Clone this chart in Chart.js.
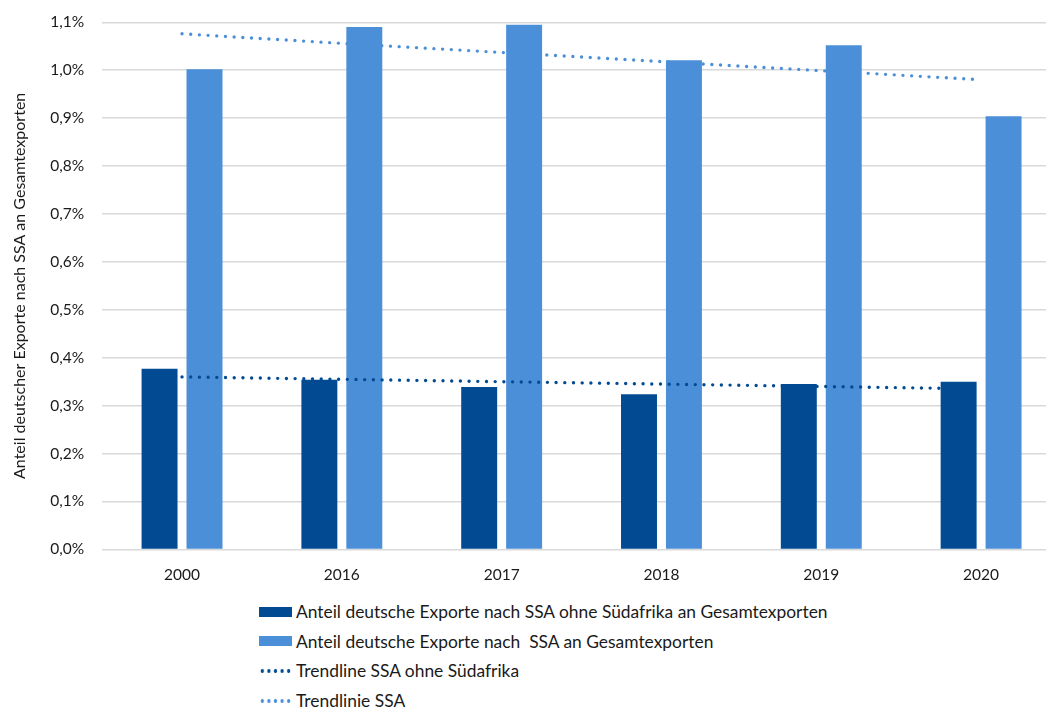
<!DOCTYPE html>
<html>
<head>
<meta charset="utf-8">
<script src="https://cdn.jsdelivr.net/npm/chart.js@4/dist/chart.umd.min.js"></script>
<style>
  body { margin: 0; background: #fff; overflow: hidden; font-family: Lato, "Open Sans", sans-serif; }
  #wrap { position: absolute; left: 0; top: -5px; width: 1061px; height: 597px; }
  #legend { position: absolute; left: 259px; top: 597px; font-size: 17.4px; color: #1a1a1a; }
  .item { display: flex; align-items: center; height: 29.6px; white-space: pre; }
  .swatch { width: 33px; height: 10px; margin-right: 4px; }
  .dots { width: 33px; height: 4px; margin-right: 4px; }
</style>
</head>
<body>
<div id="wrap"><canvas id="exportChart"></canvas></div>
<div id="legend"></div>
<script>
const years = ['2000', '2016', '2017', '2018', '2019', '2020'];
const ssaOhneSuedafrika = [0.377, 0.354, 0.339, 0.324, 0.345, 0.350];
const ssaGesamt = [1.002, 1.090, 1.095, 1.021, 1.052, 0.904];
const trendOhneSuedafrika = [0.360, 0.355, 0.350, 0.345, 0.340, 0.335];
const trendSsa = [1.076, 1.056, 1.037, 1.018, 0.999, 0.980];

const darkBlue = '#024b92';
const lightBlue = '#4c8fd9';

const ctx = document.getElementById('exportChart').getContext('2d');

const chart = new Chart(ctx, {
  type: 'bar',
  data: {
    labels: years,
    datasets: [
      {
        label: 'Anteil deutsche Exporte nach SSA ohne Südafrika an Gesamtexporten',
        data: ssaOhneSuedafrika,
        backgroundColor: darkBlue,
        order: 2
      },
      {
        label: 'Anteil deutsche Exporte nach  SSA an Gesamtexporten',
        data: ssaGesamt,
        backgroundColor: lightBlue,
        order: 2
      },
      {
        type: 'line',
        label: 'Trendline SSA ohne Südafrika',
        data: trendOhneSuedafrika,
        borderColor: darkBlue,
        borderWidth: 3.4,
        borderDash: [0, 8.7],
        borderCapStyle: 'round',
        pointRadius: 0,
        order: 1
      },
      {
        type: 'line',
        label: 'Trendlinie SSA',
        data: trendSsa,
        borderColor: lightBlue,
        borderWidth: 3.4,
        borderDash: [0, 8.7],
        borderCapStyle: 'round',
        pointRadius: 0,
        order: 1
      }
    ]
  },
  options: {
    responsive: true,
    maintainAspectRatio: false,
    animation: false,
    categoryPercentage: 0.5625,
    barPercentage: 0.8,
    layout: { padding: { top: 7, right: 0, left: 10, bottom: 0 } },
    plugins: {
      legend: { display: false },
      tooltip: { enabled: false }
    },
    scales: {
      x: {
        grid: { display: false },
        border: { display: false },
        ticks: { color: '#1a1a1a', font: { size: 15.5, family: 'Lato' }, padding: 8 }
      },
      y: {
        min: 0,
        max: 1.1,
        grid: { color: '#d9d9d9', lineWidth: 1.5, drawTicks: false },
        border: { display: false },
        ticks: {
          stepSize: 0.1,
          color: '#1a1a1a',
          font: { size: 15.5, family: 'Lato' },
          padding: 18,
          callback: v => v.toFixed(1).replace('.', ',') + '%'
        },
        title: {
          display: true,
          text: 'Anteil deutscher Exporte nach SSA an Gesamtexporten',
          color: '#1a1a1a',
          font: { size: 16, family: 'Lato' },
          padding: { top: 0, bottom: 3 }
        }
      }
    }
  }
});

// legend in a single column below the plot
const legend = document.getElementById('legend');
chart.data.datasets.forEach(ds => {
  const item = document.createElement('div');
  item.className = 'item';
  const mark = document.createElement('span');
  if (ds.type === 'line') {
    mark.className = 'dots';
    mark.style.backgroundImage = 'radial-gradient(circle, ' + ds.borderColor + ' 1.6px, transparent 2px)';
    mark.style.backgroundSize = '6.6px 4px';
  } else {
    mark.className = 'swatch';
    mark.style.background = ds.backgroundColor;
  }
  const text = document.createElement('span');
  text.textContent = ds.label;
  item.appendChild(mark);
  item.appendChild(text);
  legend.appendChild(item);
});
</script>
</body>
</html>
